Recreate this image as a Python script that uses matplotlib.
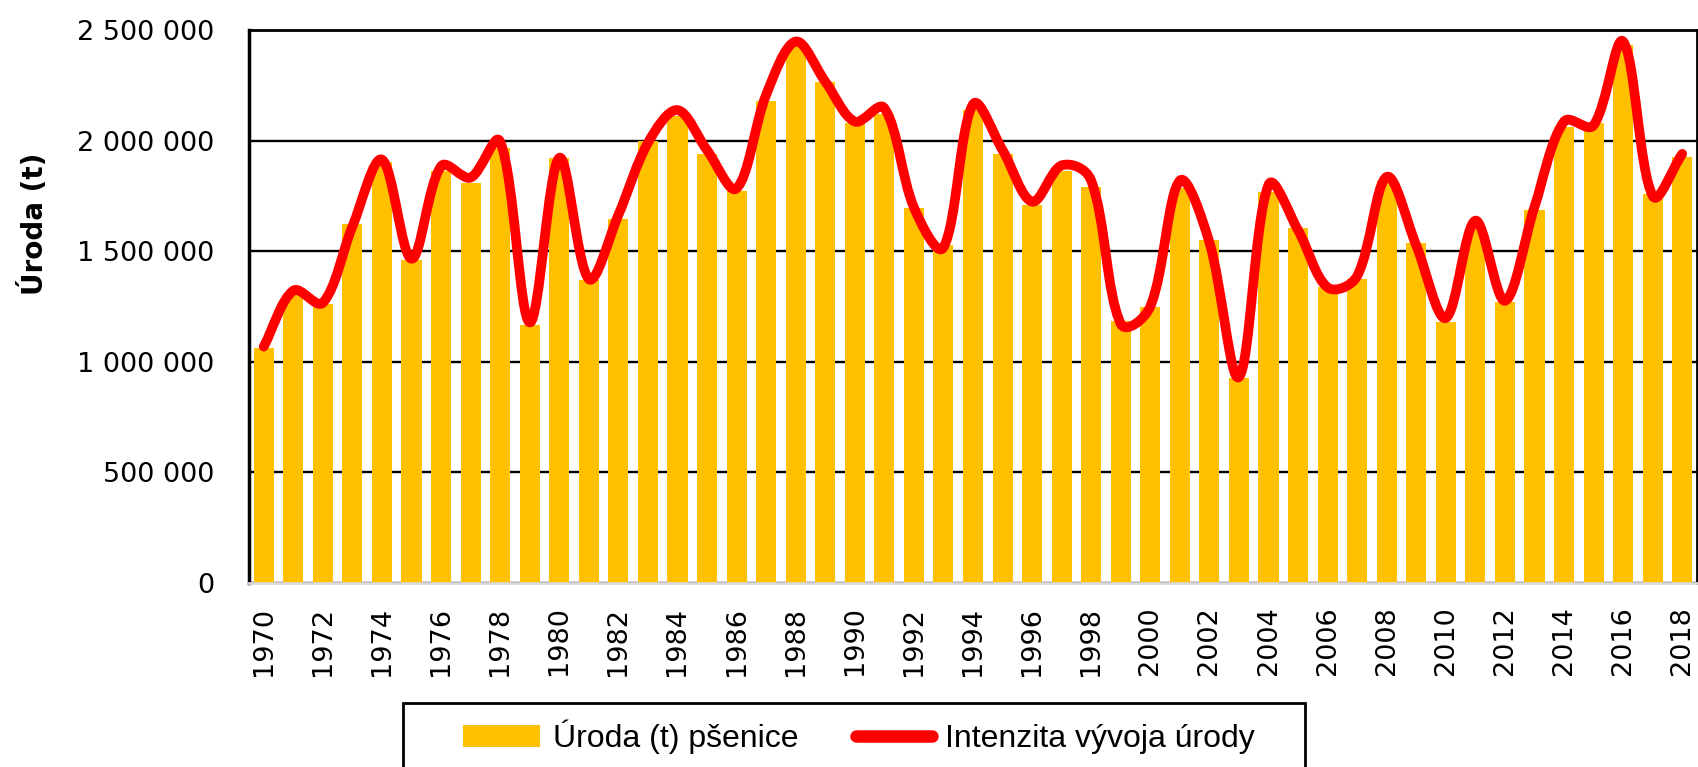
import matplotlib.pyplot as plt
from matplotlib.path import Path
from matplotlib.patches import PathPatch, Patch, Rectangle
from matplotlib.lines import Line2D
from matplotlib.ticker import FuncFormatter
import numpy as np

years = list(range(1970, 2019))

# uroda psenice (t) - stlpce
uroda = [1064000, 1300000, 1262000, 1621000, 1905000, 1460000, 1862000, 1809000,
         1966000, 1167000, 1922000, 1371000, 1647000, 2000000, 2112000, 1940000,
         1771000, 2178000, 2431000, 2264000, 2078000, 2120000, 1695000, 1526000,
         2138000, 1940000, 1707000, 1862000, 1788000, 1184000, 1250000, 1784000,
         1552000, 928000, 1767000, 1607000, 1336000, 1376000, 1819000, 1538000,
         1181000, 1600000, 1272000, 1684000, 2060000, 2081000, 2431000, 1759000,
         1928000]

# intenzita vyvoja urody - vyhladena ciara
intenzita = [1069000, 1322000, 1267000, 1612000, 1914000, 1466000, 1884000, 1833000,
             1995000, 1178000, 1922000, 1374000, 1664000, 1990000, 2138000, 1957000,
             1784000, 2207000, 2448000, 2267000, 2086000, 2147000, 1698000, 1517000,
             2164000, 1957000, 1724000, 1888000, 1819000, 1172000, 1250000, 1819000,
             1540000, 931000, 1800000, 1595000, 1336000, 1388000, 1836000, 1526000,
             1198000, 1638000, 1276000, 1700000, 2086000, 2069000, 2448000, 1750000,
             1940000]

BAR_COLOR = "#FFC000"
LINE_COLOR = "#FF0000"

W, H = 1699, 767
fig = plt.figure(figsize=(W / 100, H / 100), dpi=100)
ax = fig.add_axes([249 / W, 1 - 583 / H, (1697 - 249) / W, (583 - 30) / H])

x = np.arange(len(years))
ax.bar(x, uroda, width=0.68, color=BAR_COLOR, zorder=2)

ax.set_xlim(-0.5, len(years) - 0.5)
ax.set_ylim(0, 2500000)

# vyhladena ciara ako v exceli, kontrolne body v pixeloch podla dlzky usekov
pts = ax.transData.transform(np.column_stack([x, intenzita]).astype(float))
verts = [pts[0]]
codes = [Path.MOVETO]
n = len(pts)
for i in range(n - 1):
    p0 = pts[i - 1] if i > 0 else pts[i]
    p1 = pts[i]
    p2 = pts[i + 1]
    p3 = pts[i + 2] if i + 2 < n else pts[i + 1]
    d01 = np.hypot(*(p1 - p0))
    d12 = np.hypot(*(p2 - p1))
    d23 = np.hypot(*(p3 - p2))
    f1 = 0.8 * d12 / (d01 + d12) / 3 + 0.2 / 6 if d01 > 0 else 1 / 3
    f2 = 0.8 * d12 / (d12 + d23) / 3 + 0.2 / 6 if d23 > 0 else 1 / 3
    c1 = p1 + (p2 - p0) * f1 if i > 0 else p1 + (p2 - p1) / 3
    c2 = p2 - (p3 - p1) * f2 if i + 2 < n else p2 - (p2 - p1) / 3
    verts += [c1, c2, p2]
    codes += [Path.CURVE4] * 3
verts = ax.transData.inverted().transform(np.array(verts))
ax.add_patch(PathPatch(Path(verts, codes), fill=False, edgecolor=LINE_COLOR,
                       lw=7, capstyle="round", joinstyle="round", zorder=3))

ax.set_yticks(np.arange(0, 2500001, 500000))
ax.yaxis.set_major_formatter(FuncFormatter(lambda v, p: f"{v:,.0f}".replace(",", " ")))
ax.set_xticks(x[::2])
ax.set_xticklabels([str(y) for y in years[::2]], rotation=90)
ax.tick_params(axis="y", length=0, pad=25, labelsize=19.5)
ax.tick_params(axis="x", length=0, pad=17, labelsize=19.5)
ax.grid(axis="y", color="black", lw=1.7, zorder=1)
ax.set_axisbelow(True)
for s in ["top", "right", "left"]:
    ax.spines[s].set_color("black")
    ax.spines[s].set_linewidth(2)
ax.spines["left"].set_linewidth(2.5)
ax.spines["bottom"].set_color("#d9d9d9")
ax.spines["bottom"].set_linewidth(2)

fig.text(34 / W, 1 - 224 / H, "Úroda (t)", rotation=90, fontsize=20,
         fontweight="bold", ha="center", va="center")

# legenda
handles = [Patch(facecolor=BAR_COLOR, edgecolor="none"),
           Line2D([0], [0], color=LINE_COLOR, lw=9, solid_capstyle="round")]
fig.legend(handles, ["Úroda (t) pšenice", "Intenzita vývoja úrody"],
           loc="center", bbox_to_anchor=(859 / W, 1 - 737 / H), ncol=2,
           frameon=False, handlelength=2.4, handleheight=0.65, handletextpad=0.4,
           columnspacing=1.8, prop={"family": ["Liberation Sans", "DejaVu Sans"], "size": 23})
fig.patches.append(Rectangle((403 / W, -0.05), (1305 - 403) / W, 0.05 + (767 - 703) / H,
                             transform=fig.transFigure, fill=False, edgecolor="black",
                             lw=2, figure=fig))

fig.savefig("out.png", dpi=100)
